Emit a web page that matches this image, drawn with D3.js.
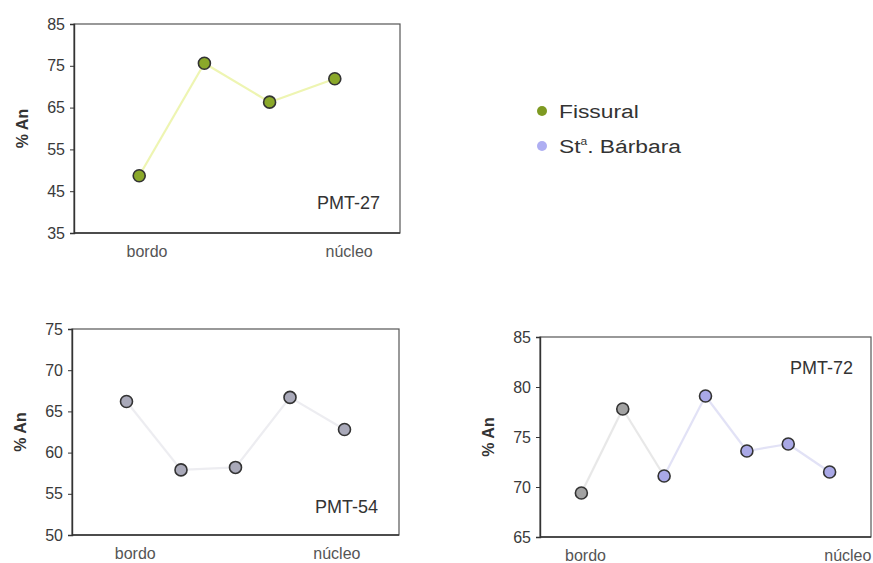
<!DOCTYPE html>
<html><head><meta charset="utf-8">
<script src="https://cdn.jsdelivr.net/npm/d3@7"></script>
<style>body{margin:0;background:#fff}svg{display:block}text{font-family:"Liberation Sans",Arial,sans-serif}</style>
</head><body>
<svg id="c" width="873" height="563"></svg>
<script>
// ---- data ----
const names = ["PMT-27", "PMT-54", "PMT-72"];
const values27 = [48.7, 75.6, 66.3, 71.9];
const groups27 = ["Fissural", "Fissural", "Fissural", "Fissural"];
const values54 = [66.2, 57.9, 58.2, 66.7, 62.8];
const groups54 = ["Outro", "Outro", "Outro", "Outro", "Outro"];
const values72 = [69.4, 77.8, 71.1, 79.1, 73.6, 74.3, 71.5];
const groups72 = ["Cinza", "Cinza", "St. Bárbara", "St. Bárbara", "St. Bárbara", "St. Bárbara", "St. Bárbara"];
const yTicks27 = [35, 45, 55, 65, 75, 85];
const yTicks54 = [50, 55, 60, 65, 70, 75];
const yTicks72 = [65, 70, 75, 80, 85];
const xLabelText = ["bordo", "núcleo"];
const legendNames = ["Fissural", "St. Bárbara"];

// ---- styles ----
const fillColor = {"Fissural": "#8aa82a", "Outro": "#a9a9b9", "Cinza": "#a2a2a2", "St. Bárbara": "#a9a8e6"};
const lineColor = {"Fissural": "#eef5b2", "Outro": "#ededf1", "Cinza": "#e8e8e8", "St. Bárbara": "#e2e2f6"};
const legendColor = {"Fissural": "#7e9a22", "St. Bárbara": "#aeaef2"};

const panels = [
  {name: names[0], values: values27, groups: groups27, ticks: yTicks27, box: [74, 24, 400, 233], labelAt: [0.12, 3.22], tag: [380, 209]},
  {name: names[1], values: values54, groups: groups54, ticks: yTicks54, box: [72, 329, 399, 535], labelAt: [0.16, 3.86], tag: [378, 513]},
  {name: names[2], values: values72, groups: groups72, ticks: yTicks72, box: [540, 337, 871, 537], labelAt: [0.1, 6.44], tag: [853, 374]}
];

const svg = d3.select("#c");

panels.forEach(p => {
  const [x0, y0, x1, y1] = p.box;
  const n = p.values.length;
  const x = d3.scaleLinear().domain([-1, n]).range([x0, x1]);
  const y = d3.scaleLinear().domain(d3.extent(p.ticks)).range([y1, y0]);
  const g = svg.append("g");

  g.append("rect").attr("x", x0).attr("y", y0).attr("width", x1 - x0).attr("height", y1 - y0)
    .attr("fill", "#fff").attr("stroke", "#555").attr("stroke-width", 1.2);

  const ya = g.append("g").attr("transform", `translate(${x0},0)`)
    .call(d3.axisLeft(y).tickValues(p.ticks).tickSize(4).tickPadding(5).tickFormat(d3.format("d")));
  ya.select(".domain").attr("stroke", "#333").attr("stroke-width", 1.4);
  ya.selectAll(".tick line").attr("stroke", "#333");
  ya.selectAll(".tick text").attr("font-size", 16).attr("fill", "#3a3a3a")
    .attr("font-family", '"Liberation Sans", Arial, sans-serif');

  g.append("line").attr("x1", x0).attr("x2", x1).attr("y1", y1).attr("y2", y1)
    .attr("stroke", "#333").attr("stroke-width", 1.6);

  // y title
  g.append("text").attr("transform", `translate(${x0 - 46},${(y0 + y1) / 2}) rotate(-90)`)
    .attr("text-anchor", "middle").attr("font-size", 16).attr("font-weight", "bold").attr("fill", "#333")
    .text("% An");

  // x labels
  xLabelText.forEach((t, i) => {
    g.append("text").attr("x", x(p.labelAt[i])).attr("y", y1 + 24).attr("text-anchor", "middle")
      .attr("font-size", 16).attr("fill", "#555").text(t);
  });

  // sample tag
  g.append("text").attr("x", p.tag[0]).attr("y", p.tag[1]).attr("text-anchor", "end")
    .attr("font-size", 18).attr("fill", "#333").text(p.name);

  // lines (segments coloured by start point's group)
  const pts = p.values.map((v, i) => ({i, v, grp: p.groups[i]}));
  for (let i = 0; i < pts.length - 1; i++) {
    g.append("line").attr("x1", x(pts[i].i)).attr("y1", y(pts[i].v))
      .attr("x2", x(pts[i + 1].i)).attr("y2", y(pts[i + 1].v))
      .attr("stroke", lineColor[pts[i].grp]).attr("stroke-width", 2.2);
  }
  g.selectAll("circle.pt").data(pts).join("circle").attr("class", "pt")
    .attr("cx", d => x(d.i)).attr("cy", d => y(d.v)).attr("r", 6)
    .attr("fill", d => fillColor[d.grp]).attr("stroke", "#333").attr("stroke-width", 1.6);
});

// legend
const lg = svg.append("g");
legendNames.forEach((nm, i) => {
  const cy = 111 + i * 35;
  lg.append("circle").attr("cx", 542).attr("cy", cy).attr("r", 5).attr("fill", legendColor[nm]);
  const t = lg.append("text").attr("transform", `translate(559,${cy + 7}) scale(1.2,1)`)
    .attr("font-size", 19).attr("fill", "#333");
  if (nm === "St. Bárbara") {
    t.append("tspan").text("St");
    t.append("tspan").attr("font-size", 10).attr("dy", -8).text("a");
    t.append("tspan").attr("dy", 8).text(". Bárbara");
  } else {
    t.text(nm);
  }
});
</script>
</body></html>
